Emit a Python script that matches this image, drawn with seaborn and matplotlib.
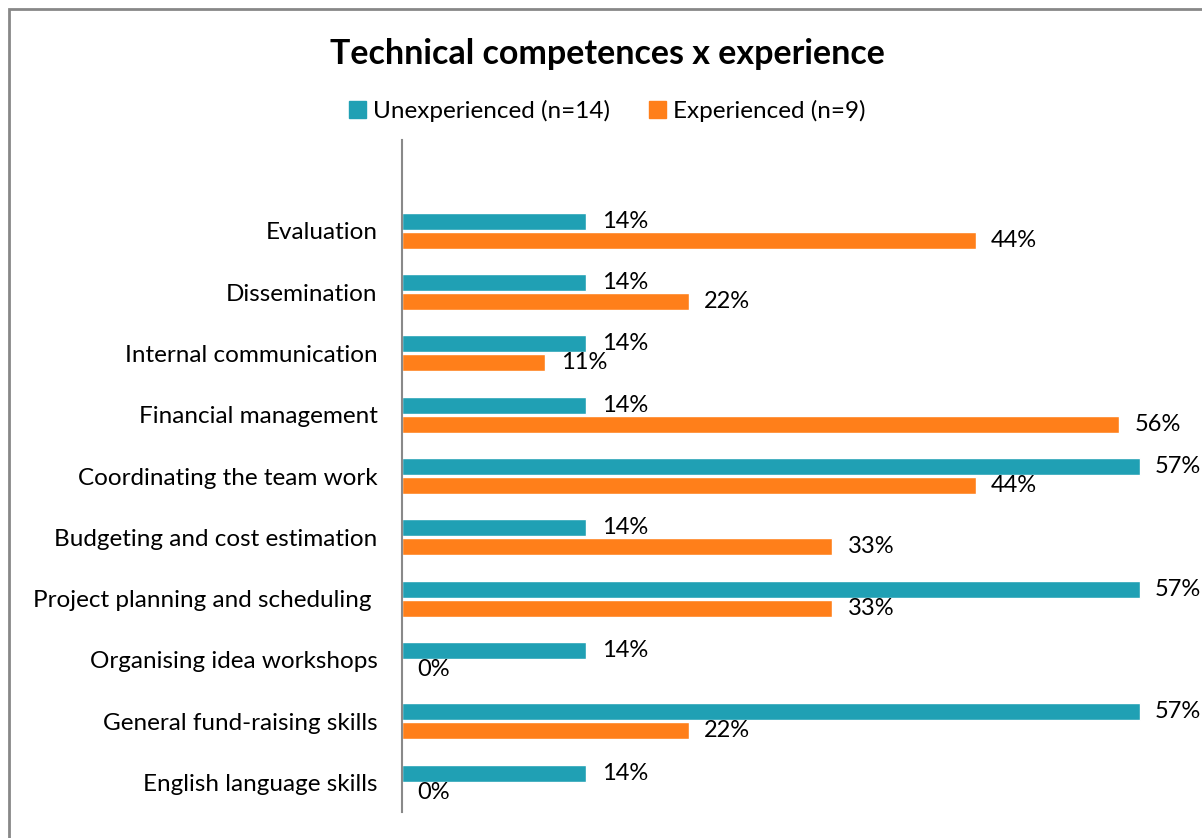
import pandas as pd
import matplotlib.pyplot as plt
import matplotlib.patches as mpatches
import seaborn as sns

# data (shares of each group, in %)
skills = ["Evaluation", "Dissemination", "Internal communication",
          "Financial management", "Coordinating the team work",
          "Budgeting and cost estimation", "Project planning and scheduling ",
          "Organising idea workshops", "General fund-raising skills",
          "English language skills"]
unexperienced = [14.29, 14.29, 14.29, 14.29, 57.14, 14.29, 57.14, 14.29, 57.14, 14.29]
experienced = [44.44, 22.22, 11.11, 55.56, 44.44, 33.33, 33.33, 0.0, 22.22, 0.0]
groups = ["Unexperienced (n=14)", "Experienced (n=9)"]
colors = ["#20A0B4", "#FF7F1A"]

df = pd.DataFrame({
    "skill": skills * 2,
    "value": unexperienced + experienced,
    "group": [groups[0]] * len(skills) + [groups[1]] * len(skills),
})

sns.set_style("white")
plt.rcParams["font.family"] = ["Lato", "DejaVu Sans"]
plt.rcParams["text.color"] = "black"
plt.rcParams["ytick.color"] = "black"

fig = plt.figure(figsize=(12.02, 8.38), dpi=100)
ax = fig.add_axes([402 / 1202, 26 / 838, 800 / 1202, 672 / 838])

sns.barplot(data=df, x="value", y="skill", hue="group", palette=colors,
            orient="h", width=0.62, gap=0.1, saturation=1, ax=ax, legend=False)

for cont in ax.containers:
    labs = [f"{round(b.get_width())}%" for b in cont]
    ax.bar_label(cont, labels=labs, padding=11, fontsize=17, color="black")

ax.set_xlim(0, 800 / 12.91)
ax.set_ylim(9.48, -1.48)
ax.set_xlabel("")
ax.set_ylabel("")
ax.set_xticks([])
ax.tick_params(axis="y", length=0, labelsize=17.5, pad=17.5, labelcolor="black")
for s in ["top", "right", "bottom"]:
    ax.spines[s].set_visible(False)
ax.spines["left"].set_color("#898989")
ax.spines["left"].set_linewidth(1.5)

# outer chart border (left and top edges visible)
fig.patches.append(mpatches.Rectangle((9 / 1202, -0.1), 1.2, (838 - 9) / 838 + 0.1,
                                      transform=fig.transFigure, fill=False,
                                      edgecolor="#888888", linewidth=2))

fig.text(607 / 1202, 1 - 54 / 838, "Technical competences x experience",
         ha="center", va="center", fontsize=24.5, fontweight="bold", color="black")

handles = [mpatches.Patch(color=c, label=g) for c, g in zip(colors, groups)]
fig.legend(handles=handles, loc="center", bbox_to_anchor=(607 / 1202, 1 - 111 / 838),
           ncol=2, frameon=False, fontsize=17.5, handlelength=0.7, handleheight=0.7,
           handletextpad=0.3, columnspacing=1.6)

fig.savefig("out.png", dpi=100)
